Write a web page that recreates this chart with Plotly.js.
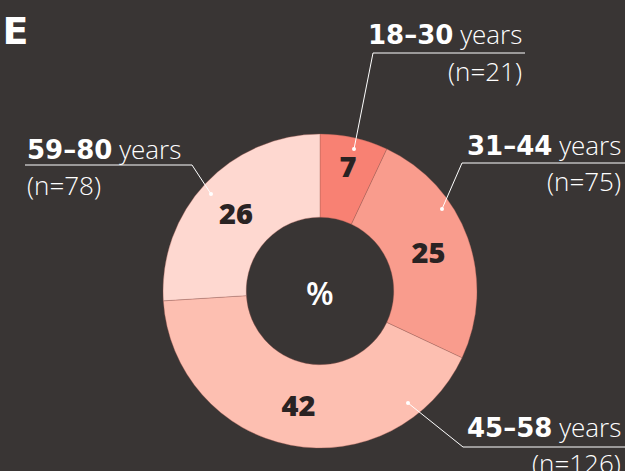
<!DOCTYPE html>
<html>
<head>
<meta charset="utf-8">
<script src="https://cdn.plot.ly/plotly-3.0.1.min.js"></script>
<style>html,body{margin:0;padding:0;background:#393534;}#chart{width:625px;height:471px;}</style>
</head>
<body>
<div id="chart"></div>
<script>
// ---- data ----
const ageGroups = ['18–30', '31–44', '45–58', '59–80'];
const sampleSizes = [21, 75, 126, 78];
const percentages = [7, 25, 42, 26];
const sliceColors = ['#f88173', '#f99c8d', '#fdbfb1', '#fed8d0'];

// ---- layout helpers (pixel -> paper) ----
const W = 625, H = 471;
const px = x => x / W;
const py = y => 1 - y / H;

// label placement (style/layout only)
const labelPlacement = [
  {side: 'right', tx: 524, y1: 34, y2: 71, ux0: 373, ux1: 525, uy: 53, dot: [354, 149]},
  {side: 'right', tx: 623, y1: 145, y2: 181, ux0: 462, ux1: 625, uy: 163, dot: [442, 209]},
  {side: 'right', tx: 623, y1: 427, y2: 463, ux0: 463, ux1: 625, uy: 447, dot: [408, 403]},
  {side: 'left',  tx: 25,  y1: 149, y2: 185, ux0: 25,  ux1: 192, uy: 165, dot: [211, 194]}
];

const FONT = '"Open Sans", Lato, sans-serif';
const shapes = [];
const annotations = [];

labelPlacement.forEach((p, i) => {
  const elbowX = p.side === 'right' ? p.ux0 : p.ux1;
  shapes.push({type: 'line', xref: 'paper', yref: 'paper',
    x0: px(p.ux0), x1: px(p.ux1), y0: py(p.uy), y1: py(p.uy),
    line: {color: '#ffffff', width: 1}});
  shapes.push({type: 'line', xref: 'paper', yref: 'paper',
    x0: px(elbowX), x1: px(p.dot[0]), y0: py(p.uy), y1: py(p.dot[1]),
    line: {color: '#ffffff', width: 1}});
  shapes.push({type: 'circle', xref: 'paper', yref: 'paper',
    x0: px(p.dot[0] - 2), x1: px(p.dot[0] + 2), y0: py(p.dot[1] - 2), y1: py(p.dot[1] + 2),
    fillcolor: '#ffffff', line: {width: 0}});
  const anchor = p.side === 'right' ? 'right' : 'left';
  annotations.push({xref: 'paper', yref: 'paper', x: px(p.tx), y: py(p.y1),
    xanchor: anchor, yanchor: 'middle', showarrow: false,
    text: '<span style="font-family:DejaVu Sans;font-weight:bold">' + ageGroups[i] + '</span> years',
    font: {family: FONT, size: 26, color: '#ffffff', weight: 300}});
  annotations.push({xref: 'paper', yref: 'paper', x: px(p.tx), y: py(p.y2),
    xanchor: anchor, yanchor: 'middle', showarrow: false,
    text: '(n=' + sampleSizes[i] + ')',
    font: {family: FONT, size: 26, color: '#ffffff', weight: 300}});
});

// center label
annotations.push({xref: 'paper', yref: 'paper', x: px(320), y: py(292),
  xanchor: 'center', yanchor: 'middle', showarrow: false, text: '%',
  font: {family: FONT, size: 32, color: '#ffffff', weight: 600}});

const cx = 320, cy = 291, R = 157;
const trace = {
  type: 'pie',
  labels: ageGroups,
  values: percentages,
  text: percentages.map(String),
  textinfo: 'text',
  textposition: 'inside',
  insidetextorientation: 'horizontal',
  textfont: {family: FONT, size: 29, color: '#2a2323', weight: 800},
  hole: 0.47,
  sort: false,
  direction: 'clockwise',
  rotation: 0,
  marker: {colors: sliceColors, line: {color: 'rgba(160,90,80,0.6)', width: 0.6}},
  domain: {x: [px(cx - R), px(cx + R)], y: [py(cy + R), py(cy - R)]},
  showlegend: false,
  hoverinfo: 'none'
};

const layout = {
  width: W, height: H,
  margin: {l: 0, r: 0, t: 0, b: 0},
  paper_bgcolor: '#393534',
  plot_bgcolor: '#393534',
  showlegend: false,
  title: {text: '<b>E</b>', x: 0.004, xanchor: 'left', xref: 'paper',
    y: py(31), yanchor: 'middle', font: {family: '"DejaVu Sans", sans-serif', size: 38, color: '#ffffff'}},
  shapes: shapes,
  annotations: annotations
};

Plotly.newPlot('chart', [trace], layout, {displayModeBar: false, staticPlot: true});
</script>
</body>
</html>
